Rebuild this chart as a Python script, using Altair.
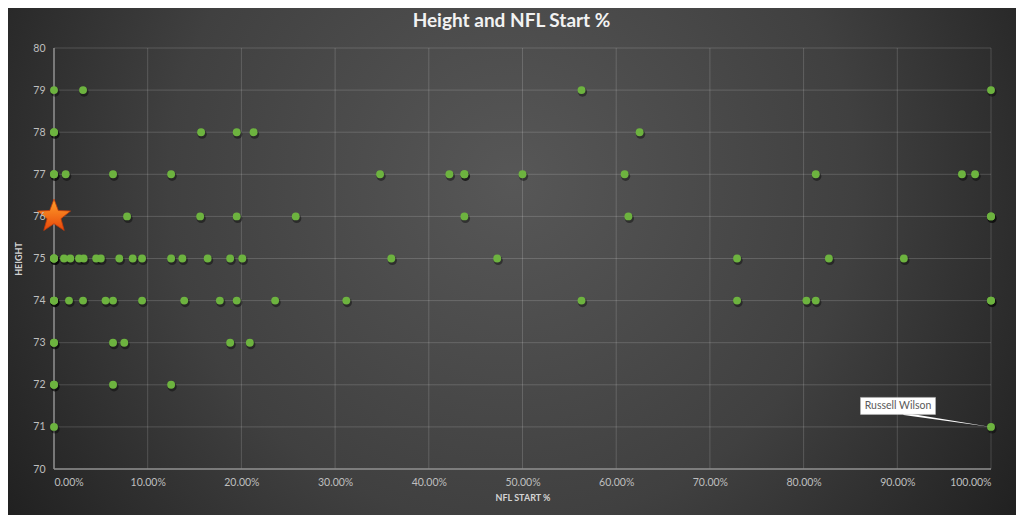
import math
import altair as alt
import pandas as pd

# ---- data ----
x_ticks = [0.0, 0.1, 0.2, 0.3, 0.4, 0.5, 0.6, 0.7, 0.8, 0.9, 1.0]
y_ticks = [70, 71, 72, 73, 74, 75, 76, 77, 78, 79, 80]

h79 = [0.0, 0.031, 0.563, 1.0]
h78 = [0.0, 0.0, 0.157, 0.195, 0.213, 0.625]
h77 = [0.0, 0.0, 0.0125, 0.063, 0.125, 0.348, 0.422, 0.438, 0.438, 0.50, 0.609, 0.813, 0.969, 0.983]
h76 = [0.078, 0.156, 0.195, 0.258, 0.438, 0.613, 1.0, 1.0]
h75 = [0.0, 0.0, 0.0, 0.0107, 0.0174, 0.0267, 0.0317, 0.045, 0.050, 0.0697, 0.084, 0.094,
       0.125, 0.137, 0.164, 0.188, 0.201, 0.360, 0.473, 0.729, 0.827, 0.907]
h74 = [0.0, 0.0, 0.0, 0.016, 0.031, 0.055, 0.063, 0.094, 0.139, 0.177, 0.195, 0.236, 0.312,
       0.563, 0.729, 0.803, 0.813, 1.0, 1.0]
h73 = [0.0, 0.0, 0.063, 0.075, 0.188, 0.209]
h72 = [0.0, 0.0, 0.063, 0.125]
h71 = [0.0, 1.0]

star_start = [0.0]
star_height = [76]

label_text = ["Russell Wilson"]
label_start = [1.0]
label_height = [71]

groups = [(79, h79), (78, h78), (77, h77), (76, h76), (75, h75),
          (74, h74), (73, h73), (72, h72), (71, h71)]
df = pd.DataFrame([{"start": s, "height": h} for h, lst in groups for s in lst])
star_df = pd.DataFrame({"start": star_start, "height": star_height})
label_df = pd.DataFrame({"start": label_start, "height": label_height, "name": label_text})
gx_df = pd.DataFrame({"start": x_ticks})
gy_df = pd.DataFrame({"height": y_ticks})

W, H = 937, 421
PL, PT, PR, PB = 46, 40, 25, 46
FONT = "Lato"

# five-pointed star outline (unit radius), used as a symbol shape
pts = []
for i in range(10):
    r = 1.0 if i % 2 == 0 else 0.42
    a = math.radians(-90 + 36 * i)
    pts.append(f"{r * math.cos(a):.4f},{r * math.sin(a):.4f}")
STAR_PATH = "M" + " L".join(pts) + " Z"

xs = alt.Scale(domain=[0, 1], nice=False, zero=False)
ys = alt.Scale(domain=[70, 80], nice=False, zero=False)
xaxis = alt.Axis(title="NFL START %", values=x_ticks, format=".2%", labelPadding=8,
                 titlePadding=6, zindex=2)
yaxis = alt.Axis(title="HEIGHT", values=y_ticks, labelPadding=9, titlePadding=9, zindex=2)
X = alt.X("start:Q", scale=xs, axis=xaxis)
Y = alt.Y("height:Q", scale=ys, axis=yaxis)

one = pd.DataFrame({"k": [0]})
bg = alt.Chart(one).mark_rect(
    color={"gradient": "radial", "x1": 0.5, "y1": 0.42, "r1": 0.0,
           "x2": 0.5, "y2": 0.42, "r2": 0.62,
           "stops": [{"offset": 0, "color": "#575757"},
                     {"offset": 0.55, "color": "#404040"},
                     {"offset": 1, "color": "#1e1e1e"}]}
).encode(x=alt.value(-PL), x2=alt.value(W + PR), y=alt.value(-PT), y2=alt.value(H + PB))

gridx = alt.Chart(gx_df).mark_rule(color="#ffffff", opacity=0.16, strokeWidth=1).encode(x=X)
gridy = alt.Chart(gy_df).mark_rule(color="#ffffff", opacity=0.16, strokeWidth=1).encode(y=Y)
domx = alt.Chart(gy_df.head(1)).mark_rule(color="#8c8c8c", strokeWidth=1.5).encode(y=Y)
domy = alt.Chart(gx_df.head(1)).mark_rule(color="#8c8c8c", strokeWidth=1.5).encode(x=X)

shadow = alt.Chart(df).mark_circle(color="#000000", opacity=0.4, size=85,
                                   xOffset=1, yOffset=2).encode(x=X, y=Y)
dots = alt.Chart(df).mark_circle(color="#6DB33F", opacity=1, size=62).encode(x=X, y=Y)

star = alt.Chart(star_df).mark_point(
    shape=STAR_PATH, filled=True, size=1210, opacity=1,
    fill={"gradient": "linear", "x1": 0.5, "y1": 0, "x2": 0.5, "y2": 1,
          "stops": [{"offset": 0, "color": "#FFA12B"}, {"offset": 1, "color": "#E8470A"}]},
    stroke="#C0390A", strokeWidth=0.8
).encode(x=X, y=Y)

leader = alt.Chart(label_df).mark_point(
    shape="M0,0 L-0.88,-0.145 L-0.875,-0.12 Z", size=40000, filled=True,
    fill="#ffffff", opacity=1
).encode(x=X, y=Y)
box = alt.Chart(label_df).mark_point(
    shape="M-1,-0.227 L1,-0.227 L1,0.227 L-1,0.227 Z", size=5625, filled=True,
    fill="#ffffff", stroke="#bfbfbf", strokeWidth=0.5, opacity=1, xOffset=-93, yOffset=-21
).encode(x=X, y=Y)
label = alt.Chart(label_df).mark_text(
    font=FONT, fontSize=10.5, color="#595959", dx=-93, dy=-21, align="center", baseline="middle"
).encode(x=X, y=Y, text="name:N")

chart = alt.layer(bg, gridx, gridy, domx, domy, shadow, dots, leader, box, label, star).properties(
    width=W, height=H,
    title=alt.TitleParams("Height and NFL Start %", font=FONT, fontSize=19, fontWeight="bold",
                          color="#f2f2f2", dx=-11, offset=-23, anchor="middle"),
    autosize=alt.AutoSizeParams(type="none"),
    padding={"left": PL, "top": PT, "right": PR, "bottom": PB},
).configure(background="#2b2b2b").configure_view(strokeWidth=0).configure_axis(
    domain=False, ticks=False, grid=False,
    labelColor="#bfbfbf", labelFont=FONT, labelFontSize=10.5,
    titleColor="#d4d4d4", titleFont=FONT, titleFontSize=9, titleFontWeight="bold",
)

chart.save("out.html", embed_options={"renderer": "svg", "actions": False})
